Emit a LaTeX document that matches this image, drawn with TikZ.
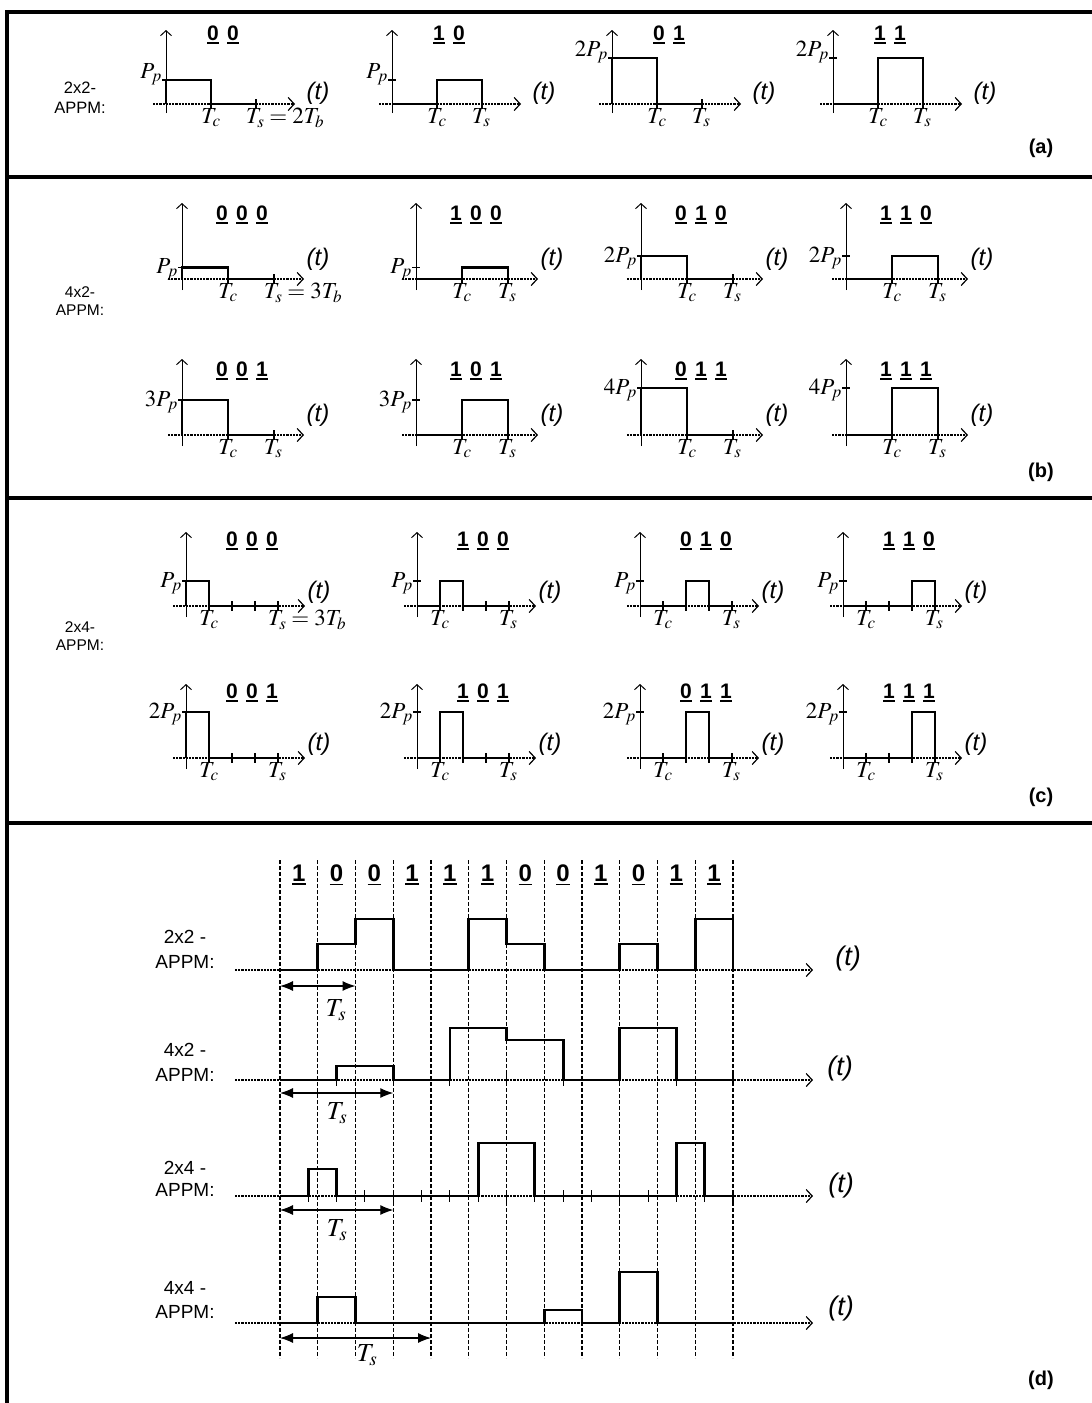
\documentclass[tikz,border=0pt]{standalone}
\usepackage{mathptmx}
\usepackage[no-math]{fontspec}
\setmainfont{Liberation Sans}
\usetikzlibrary{arrows.meta}
\newsavebox\ubox
\newcommand\uu[1]{\sbox\ubox{#1}\rlap{\rule[-0.17em]{\wd\ubox}{0.08em}}\usebox\ubox}
\newcommand\ug{\hspace{0.4em}}
\tikzset{
  frame/.style={line width=3.2pt},
  haxis/.style={line width=2pt, dash pattern=on 2.2pt off 1pt, -{Straight Barb[length=6pt,width=13pt,line width=1.2pt]}},
  vaxis/.style={line width=1pt, -{Straight Barb[length=5pt,width=11pt,line width=1pt]}},
  sig/.style={line width=2.8pt, line join=miter},
  tk/.style={line width=1.1pt},
  grid/.style={line width=1.1pt, dash pattern=on 4pt off 2pt},
  tsarrow/.style={line width=1.1pt, {Latex[length=13pt,width=10pt]}-{Latex[length=13pt,width=10pt]}},
  lvl/.style={anchor=base east, inner sep=0pt, font=\fontsize{23}{23}\selectfont},
  tlab/.style={anchor=north, inner sep=0pt, font=\fontsize{23}{23}\selectfont},
  ttl/.style={inner sep=0pt, font=\fontsize{21}{21}\selectfont\bfseries},
  tt/.style={inner sep=0pt, font=\fontsize{24}{24}\selectfont\itshape},
  rowlab/.style={inner sep=0pt, font=\fontsize{15.5}{15.5}\selectfont},
  dlab/.style={inner sep=0pt, font=\fontsize{19}{19}\selectfont},
  seclab/.style={inner sep=0pt, font=\fontsize{20}{20}\selectfont\bfseries},
  dbit/.style={inner sep=0pt, font=\fontsize{24}{24}\selectfont\bfseries},
  dt/.style={inner sep=0pt, font=\fontsize{27}{27}\selectfont\itshape},
  dts/.style={inner sep=0pt, font=\fontsize{26}{26}\selectfont},
}
% #1 X, #2 Y, #3 title, #4 level label, #5 level height, #6 pulse start, #7 pulse end, #8 name, #9 Ts label
\newcommand\pplot[9]{%
\begin{scope}[shift={(#1,#2)}]
\draw[vaxis] (0,\vdn) -- (0,-\vup);
\draw[haxis] (-\axL,0) -- (\axR,0);
\foreach \k in \tickl {\draw[tk] (\k,-5) -- (\k,5);}
\draw[tk] (-4,-#5) -- (4,-#5);
\draw[sig] (0,0) -- (#6,0) -- (#6,-#5) -- (#7,-#5) -- (#7,0) -- (\Ts,0);
\node[lvl] (#8l) at (-4,-#5+\lvlb) {$#4$};
\node[tlab] (#8c) at (\Tc,4) {$T_c$};
\node[tlab, anchor=north west] (#8s) at (\Ts-10,4) {#9};
\node[ttl] (#8h) at (\ttx,-\tty) {#3};
\node[tt] (#8t) at (\tx,-\ty) {(t)};
\end{scope}}
\begin{document}
\begin{tikzpicture}[x=1pt,y=-1pt]
\useasboundingbox (0,0) rectangle (1092,1403);
\fill[white] (0,0) rectangle (1092,1403);
% frame
\draw[frame] (1092,12) -- (7,12) -- (7,1403);
\draw[frame] (7,177) -- (1092,177);
\draw[frame] (7,498) -- (1092,498);
\draw[frame] (7,823) -- (1092,823);
% section labels
\node[seclab] (la) at (1041,148) {(a)};
\node[seclab] (lb) at (1041,472) {(b)};
\node[seclab] (lc) at (1041,797) {(c)};
\node[seclab] (ld) at (1041,1380) {(d)};
% row labels
\node[rowlab, font=\fontsize{16.5}{16.5}\selectfont] (ra1) at (80,88) {2x2-};
\node[rowlab, font=\fontsize{16.5}{16.5}\selectfont] (ra2) at (80,108) {APPM:};
\node[rowlab] (rb1) at (80,292) {4x2-};
\node[rowlab] (rb2) at (80,310) {APPM:};
\node[rowlab] (rc1) at (80,627) {2x4-};
\node[rowlab] (rc2) at (80,645) {APPM:};
% ---------- (a)
\def\vup{74}\def\vdn{9}\def\axL{13}\def\axR{129}\def\Tc{45}\def\Ts{90}\def\tickl{45,90}
\def\tx{152}\def\ty{11}\def\ttx{57}\def\tty{69}\def\lvlb{-2}
\pplot{166}{104}{\uu{0}\ug\uu{0}}{P_p}{24}{0}{45}{a1}{$T_s=2T_b$}
\pplot{392}{104}{\uu{1}\ug\uu{0}}{P_p}{24}{45}{90}{a2}{$T_s$}
\pplot{612}{104}{\uu{0}\ug\uu{1}}{2P_p}{46}{0}{45}{a3}{$T_s$}
\pplot{833}{104}{\uu{1}\ug\uu{1}}{2P_p}{46}{45}{90}{a4}{$T_s$}
% ---------- (b)
\def\vup{76}\def\vdn{11}\def\axL{14}\def\axR{122}\def\Tc{46}\def\Ts{92}\def\tickl{46,92}
\def\tx{136}\def\ty{20}\def\ttx{60}\def\tty{64}\def\lvlb{6}
\pplot{182}{279}{\uu{0}\ug\uu{0}\ug\uu{0}}{P_p}{11.5}{0}{46}{b1}{$T_s=3T_b$}
\pplot{416}{279}{\uu{1}\ug\uu{0}\ug\uu{0}}{P_p}{11.5}{46}{92}{b2}{$T_s$}
\pplot{641}{279}{\uu{0}\ug\uu{1}\ug\uu{0}}{2P_p}{23}{0}{46}{b3}{$T_s$}
\pplot{846}{279}{\uu{1}\ug\uu{1}\ug\uu{0}}{2P_p}{23}{46}{92}{b4}{$T_s$}
\pplot{182}{435}{\uu{0}\ug\uu{0}\ug\uu{1}}{3P_p}{35}{0}{46}{b5}{$T_s$}
\pplot{416}{435}{\uu{1}\ug\uu{0}\ug\uu{1}}{3P_p}{35}{46}{92}{b6}{$T_s$}
\pplot{641}{435}{\uu{0}\ug\uu{1}\ug\uu{1}}{4P_p}{47}{0}{46}{b7}{$T_s$}
\pplot{846}{435}{\uu{1}\ug\uu{1}\ug\uu{1}}{4P_p}{47}{46}{92}{b8}{$T_s$}
% ---------- (c)
\def\vup{74}\def\vdn{11}\def\axL{13}\def\axR{119}\def\Tc{23}\def\Ts{92}\def\tickl{23,46,69,92}
\def\tx{133}\def\ty{14}\def\ttx{66}\def\tty{65}\def\lvlb{6}
\pplot{186}{606}{\uu{0}\ug\uu{0}\ug\uu{0}}{P_p}{25}{0}{23}{c1}{$T_s=3T_b$}
\pplot{417}{606}{\uu{1}\ug\uu{0}\ug\uu{0}}{P_p}{25}{23}{46}{c2}{$T_s$}
\pplot{640}{606}{\uu{0}\ug\uu{1}\ug\uu{0}}{P_p}{25}{46}{69}{c3}{$T_s$}
\pplot{843}{606}{\uu{1}\ug\uu{1}\ug\uu{0}}{P_p}{25}{69}{92}{c4}{$T_s$}
\pplot{186}{758}{\uu{0}\ug\uu{0}\ug\uu{1}}{2P_p}{46}{0}{23}{c5}{$T_s$}
\pplot{417}{758}{\uu{1}\ug\uu{0}\ug\uu{1}}{2P_p}{46}{23}{46}{c6}{$T_s$}
\pplot{640}{758}{\uu{0}\ug\uu{1}\ug\uu{1}}{2P_p}{46}{46}{69}{c7}{$T_s$}
\pplot{843}{758}{\uu{1}\ug\uu{1}\ug\uu{1}}{2P_p}{46}{69}{92}{c8}{$T_s$}
% ---------- (d)
\foreach \i in {0,...,12} \draw[grid] ({280+37.75*\i},860) -- ({280+37.75*\i},1358);
\foreach \b [count=\i from 0] in {1,0,0,1,1,1,0,0,1,0,1,1}
  \node[dbit] (bit\i) at ({298.9+37.75*\i},875) {\uu{\b}};
\node[dlab] (d1a) at (185,937) {2x2 -};
\node[dlab] (d1b) at (185,962) {APPM:};
\node[dlab] (d2a) at (185,1050) {4x2 -};
\node[dlab] (d2b) at (185,1075) {APPM:};
\node[dlab] (d3a) at (185,1168) {2x4 -};
\node[dlab] (d3b) at (185,1190) {APPM:};
\node[dlab] (d4a) at (185,1288) {4x4 -};
\node[dlab] (d4b) at (185,1312) {APPM:};
% axes
\draw[haxis] (235,970) -- (813,970);
\draw[haxis] (235,1080) -- (813,1080);
\draw[haxis] (235,1196) -- (813,1196);
\draw[haxis] (235,1323) -- (813,1323);
\node[dt] (dt1) at (848,958) {(t)};
\node[dt] (dt2) at (840,1068) {(t)};
\node[dt] (dt3) at (841,1185) {(t)};
\node[dt] (dt4) at (841,1308) {(t)};
% signal 1
\draw[sig] (280,970) -- (317.75,970) -- (317.75,944) -- (355.5,944) -- (355.5,919) -- (393.25,919) -- (393.25,970) -- (468.75,970) -- (468.75,919) -- (506.5,919) -- (506.5,944) -- (544.25,944) -- (544.25,970) -- (619.75,970) -- (619.75,944) -- (657.5,944) -- (657.5,970) -- (695.25,970) -- (695.25,919) -- (733,919) -- (733,970);
% signal 2
\foreach \i in {1,...,8} \draw[tk] ({280+56.625*\i},1074) -- ({280+56.625*\i},1086);
\draw[sig] (280,1080) -- (336.6,1080) -- (336.6,1066) -- (393.25,1066) -- (393.25,1080) -- (449.9,1080) -- (449.9,1028) -- (506.5,1028) -- (506.5,1040) -- (563.1,1040) -- (563.1,1080) -- (619.75,1080) -- (619.75,1028) -- (676.4,1028) -- (676.4,1080) -- (733,1080);
% signal 3
\foreach \i in {1,...,16} \draw[tk] ({280+28.3125*\i},1190) -- ({280+28.3125*\i},1202);
\draw[sig] (280,1196) -- (308.3,1196) -- (308.3,1169) -- (336.6,1169) -- (336.6,1196) -- (478.2,1196) -- (478.2,1143) -- (534.8,1143) -- (534.8,1196) -- (676.4,1196) -- (676.4,1143) -- (704.7,1143) -- (704.7,1196) -- (733,1196);
% signal 4
\draw[sig] (280,1323) -- (317.75,1323) -- (317.75,1297) -- (355.5,1297) -- (355.5,1323) -- (544.25,1323) -- (544.25,1310) -- (582,1310) -- (582,1323) -- (619.75,1323) -- (619.75,1272) -- (657.5,1272) -- (657.5,1323) -- (733,1323);
% Ts arrows
\coordinate (s1a) at (280,986); \coordinate (s1b) at (355.5,986);
\coordinate (s2a) at (280,1093); \coordinate (s2b) at (393.25,1093);
\coordinate (s3a) at (280,1210); \coordinate (s3b) at (393.25,1210);
\coordinate (s4a) at (280,1338); \coordinate (s4b) at (431,1338);
\draw[tsarrow] (s1a) -- (s1b);
\draw[tsarrow] (s2a) -- (s2b);
\draw[tsarrow] (s3a) -- (s3b);
\draw[tsarrow] (s4a) -- (s4b);
\node[dts] (ts1) at (336,1010) {$T_s$};
\node[dts] (ts2) at (337,1113) {$T_s$};
\node[dts] (ts3) at (337,1230) {$T_s$};
\node[dts] (ts4) at (367,1355) {$T_s$};
\end{tikzpicture}
\end{document}
